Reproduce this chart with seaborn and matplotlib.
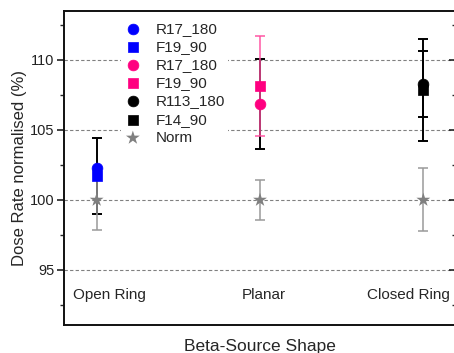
import numpy as np
import pandas as pd
import matplotlib
matplotlib.use("Agg")
import matplotlib.pyplot as plt
import seaborn as sns
from matplotlib.ticker import MultipleLocator

sns.set_style("white")
plt.rcParams['font.family'] = ['Liberation Sans', 'DejaVu Sans']

categories = ["Open Ring", "Planar", "Closed Ring"]

# series: label, colour, marker, values per category (NaN = absent), errors
labels = ["R17_180", "F19_90", "R17_180", "F19_90", "R113_180", "F14_90", "Norm"]
colors = ["#0000FF", "#0000FF", "#FF0080", "#FF0080", "#000000", "#000000", "#808080"]
markers = ["o", "s", "o", "s", "o", "s", "*"]
values = [
    [102.3, np.nan, np.nan],
    [101.7, np.nan, np.nan],
    [np.nan, 106.85, np.nan],
    [np.nan, 108.15, np.nan],
    [np.nan, np.nan, 108.3],
    [np.nan, np.nan, 107.85],
    [100.0, 100.0, 100.0],
]
errors = [
    [np.nan, np.nan, np.nan],
    [2.7, np.nan, np.nan],
    [np.nan, 3.2, np.nan],
    [np.nan, 3.55, np.nan],
    [np.nan, np.nan, 2.35],
    [np.nan, np.nan, 3.65],
    [2.15, 1.45, 2.25],
]
err_colors = ["#000000", "#000000", "#000000", "#FF4FA0", "#000000", "#000000", "#9a9a9a"]
err_alpha = [1, 1, 1, 0.75, 1, 1, 1]
err_lw = [1.4, 1.4, 1.4, 1.4, 1.4, 1.4, 1.1]
msizes = [60, 50, 60, 50, 60, 50, 110]

fig = plt.figure(figsize=(4.54, 3.53), dpi=100)
ax = fig.add_axes([64/454, 1-325/353, (456-64)/454, (325-11)/353])

xs = np.arange(len(categories))
for i, lab in enumerate(labels):
    v = np.array(values[i], dtype=float)
    e = np.array(errors[i], dtype=float)
    m = ~np.isnan(e)
    if m.any():
        ax.errorbar(xs[m], v[m], yerr=e[m], fmt='none', ecolor=err_colors[i],
                    elinewidth=err_lw[i], capsize=3.5, capthick=err_lw[i],
                    alpha=err_alpha[i], zorder=2)

for i, lab in enumerate(labels):
    v = np.array(values[i], dtype=float)
    mv = ~np.isnan(v)
    df = pd.DataFrame({"x": xs[mv], "y": v[mv]})
    sns.scatterplot(data=df, x="x", y="y", ax=ax, color=colors[i], marker=markers[i],
                    s=msizes[i], edgecolor=colors[i] if markers[i] != "*" else "none",
                    linewidth=0.5, label=lab, zorder=3)

ax.set_xlim(-0.2, 2.2)
ax.set_ylim(91.07, 113.5)
ax.yaxis.set_major_locator(MultipleLocator(5))
ax.yaxis.set_minor_locator(MultipleLocator(2.5))
ax.set_xticks([])
for y in [95, 100, 105, 110]:
    ax.axhline(y, color="#808080", lw=0.8, ls=(0, (3, 2)), zorder=0)

ax.tick_params(axis='y', which='major', direction='out', length=5, width=1.2,
               left=True, right=True, labelsize=10.5, pad=2, colors='#222222')
ax.tick_params(axis='y', which='minor', direction='out', length=3, width=1.0,
               left=True, right=True)
ax.tick_params(axis='y', which='both', labelright=False)
# right ticks point inward
for t in ax.yaxis.get_major_ticks() + ax.yaxis.get_minor_ticks():
    t.tick2line.set_marker(matplotlib.lines.TICKLEFT)

for s in ["left", "top", "bottom"]:
    ax.spines[s].set_visible(True)
    ax.spines[s].set_linewidth(1.4)
    ax.spines[s].set_color("#111111")
ax.spines["right"].set_visible(False)

ax.set_xlabel("Beta-Source Shape", fontsize=12.5, labelpad=10)
ax.set_ylabel("Dose Rate normalised (%)", fontsize=12, labelpad=2)

cat_pos = [(0.022, 'left'), (0.509, 'center'), (0.985, 'right')]
for (xf, ha), c in zip(cat_pos, categories):
    ax.text(xf, 0.096, c, transform=ax.transAxes, ha=ha, va='center', fontsize=11)

leg = ax.legend(loc='upper left', bbox_to_anchor=(0.125, 1.0), frameon=True,
                facecolor='white', edgecolor='none', framealpha=1, fontsize=11,
                handletextpad=0.9, labelspacing=0.275, borderpad=0.2,
                handlelength=1.2)
leg.get_frame().set_linewidth(0)
leg.set_zorder(1)

fig.savefig("out.png", dpi=100)
